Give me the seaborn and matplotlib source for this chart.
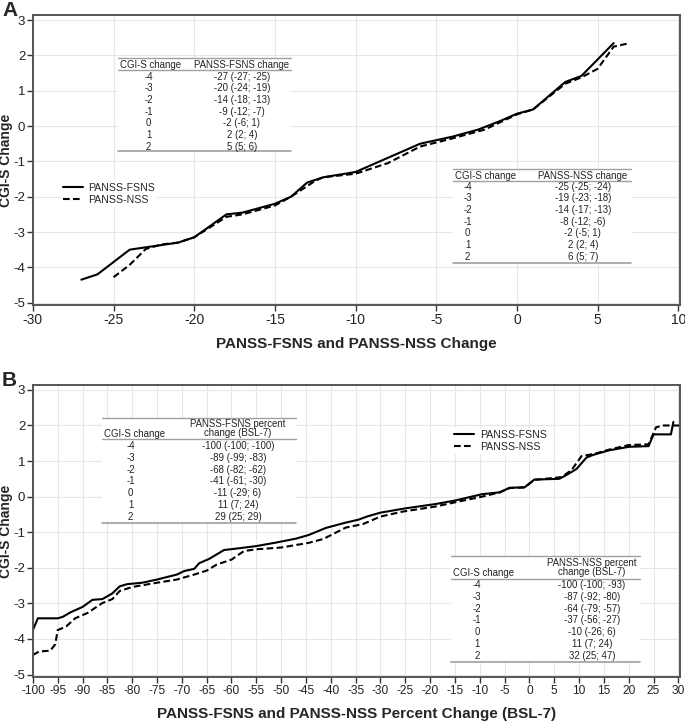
import seaborn as sns
import matplotlib.pyplot as plt
from matplotlib.patches import Rectangle
import numpy as np
import pandas as pd

# panel A: CGI-S change vs absolute PANSS change
a_fsns_x = [-27, -26, -24, -21, -20, -18, -17, -15, -14, -13, -12, -10, -8.5, -6, -4, -2.4, -1, 0, 1, 3, 4, 6]
a_fsns_y = [-4.35, -4.2, -3.5, -3.3, -3.15, -2.5, -2.45, -2.2, -2.0, -1.6, -1.45, -1.3, -1.0, -0.5, -0.3, -0.1, 0.15, 0.35, 0.47, 1.25, 1.42, 2.35]
a_nss_x = [-25, -24, -23, -22, -21, -20, -18, -17, -15, -14, -12.5, -12, -10, -8, -6, -4, -2, 0, 1, 3, 4, 5, 6, 7]
a_nss_y = [-4.28, -3.93, -3.48, -3.35, -3.3, -3.15, -2.57, -2.5, -2.25, -2.0, -1.55, -1.45, -1.35, -1.05, -0.58, -0.35, -0.1, 0.33, 0.47, 1.2, 1.38, 1.62, 2.25, 2.35]

# panel B: CGI-S change vs percent change
b_fsns_x = [-100, -99, -95, -94, -92.4, -90, -88, -86, -84, -82.5, -81, -78, -75, -71, -69.5, -67.5, -66.5,
            -64.5, -61.5, -59, -55, -51, -47, -44.5, -41, -37, -34.5, -32.5, -30, -25, -19, -15, -9.5, -6,
            -4, -1, 1, 6, 7.5, 9.5, 11.5, 13, 16, 20, 24, 25, 28.5, 29]
b_fsns_y = [-3.75, -3.42, -3.42, -3.38, -3.25, -3.1, -2.9, -2.88, -2.72, -2.52, -2.46, -2.42, -2.33, -2.19, -2.09,
            -2.03, -1.87, -1.75, -1.5, -1.46, -1.39, -1.29, -1.18, -1.08, -0.88, -0.73, -0.65, -0.55, -0.45,
            -0.33, -0.21, -0.11, 0.07, 0.12, 0.25, 0.26, 0.48, 0.5, 0.61, 0.78, 1.1, 1.18, 1.3, 1.4, 1.42,
            1.75, 1.75, 2.1]
b_nss_x = [-100, -98.7, -96.5, -95.5, -95, -93.3, -91.5, -89, -86, -84, -82.5, -80, -75, -71, -67.5, -65, -63,
           -60, -57.5, -55, -50, -44.5, -41.5, -37, -33.5, -30, -25.5, -19, -14, -9.5, -6, -4, -1, 1, 6.5,
           8.5, 10.5, 13, 16, 20, 24, 25.5, 27, 31]
b_nss_y = [-4.45, -4.35, -4.33, -4.15, -3.75, -3.65, -3.42, -3.27, -2.99, -2.88, -2.65, -2.54, -2.42, -2.33,
           -2.19, -2.08, -1.91, -1.77, -1.53, -1.48, -1.43, -1.3, -1.19, -0.87, -0.77, -0.56, -0.42, -0.28,
           -0.13, 0.0, 0.12, 0.24, 0.26, 0.47, 0.55, 0.75, 1.14, 1.2, 1.32, 1.45, 1.47, 1.95, 2.0, 2.0]

# summary tables
cgi_rows = ['-4', '-3', '-2', '-1', '0', '1', '2']
a_fsns_tab = ['-27 (-27; -25)', '-20 (-24; -19)', '-14 (-18; -13)', '-9 (-12; -7)', '-2 (-6; 1)', '2 (2; 4)', '5 (5; 6)']
a_nss_tab = ['-25 (-25; -24)', '-19 (-23; -18)', '-14 (-17; -13)', '-8 (-12; -6)', '-2 (-5; 1)', '2 (2; 4)', '6 (5; 7)']
b_fsns_tab = ['-100 (-100; -100)', '-89 (-99; -83)', '-68 (-82; -62)', '-41 (-61; -30)', '-11 (-29; 6)', '11 (7; 24)', '29 (25; 29)']
b_nss_tab = ['-100 (-100; -93)', '-87 (-92; -80)', '-64 (-79; -57)', '-37 (-56; -27)', '-10 (-26; 6)', '11 (7; 24)', '32 (25; 47)']

sns.set_style('whitegrid')
plt.rcParams['font.family'] = ['Liberation Sans Narrow', 'Liberation Sans', 'DejaVu Sans']
plt.rcParams['axes.unicode_minus'] = False

fig = plt.figure(figsize=(6.85, 7.23), dpi=100)
axA = fig.add_axes([0.048, 0.578, 0.9445, 0.401])
axB = fig.add_axes([0.048, 0.0636, 0.9445, 0.404])

DASH = (0, (3.2, 1.6))


def draw_curves(ax, fx, fy, nx, ny):
    sns.lineplot(x=fx, y=fy, ax=ax, color='black', lw=1.5, sort=False, estimator=None, label='PANSS-FSNS')
    sns.lineplot(x=nx, y=ny, ax=ax, color='black', lw=1.5, ls=DASH, sort=False, estimator=None, label='PANSS-NSS')


def style_axes(ax, xlim, xticks, xlabel, xsize):
    ax.set_xlim(*xlim)
    ax.set_ylim(-5.07, 3.14)
    ax.set_xticks(xticks)
    ax.set_yticks(range(-5, 4))
    ax.grid(True, color='#e6e6e6', lw=0.8)
    for s in ax.spines.values():
        s.set_color('#555555')
        s.set_linewidth(1.4)
    ax.tick_params(axis='both', direction='out', length=4, width=1, color='#333333',
                   labelcolor='#222222', bottom=True, left=True, pad=2)
    ax.tick_params(axis='y', labelsize=9.5, pad=1.5)
    ax.tick_params(axis='x', labelsize=xsize)
    ax.set_xlabel(xlabel, fontsize=11, fontweight='bold', labelpad=7)
    ax.set_ylabel('CGI-S Change', fontsize=10, fontweight='bold')
    ax.yaxis.set_label_coords(-0.031, 0.5)


def draw_table(ax, x0, x1, top, head_y, under, row0, c1x, c2x, head1, head2, vals, bottom, head2_y=None):
    ax.add_patch(Rectangle((x0, bottom), x1 - x0, top - bottom, transform=ax.transAxes,
                           facecolor='white', edgecolor='none', zorder=3))
    kw = dict(transform=ax.transAxes, fontsize=6.9, color='#222222', zorder=4, va='center')
    ax.plot([x0, x1], [top, top], transform=ax.transAxes, color='#a0a0a0', lw=1.0, zorder=4)
    ax.plot([x0, x1], [under, under], transform=ax.transAxes, color='#a0a0a0', lw=1.0, zorder=4)
    ax.plot([x0, x1], [bottom, bottom], transform=ax.transAxes, color='#a0a0a0', lw=1.2, zorder=4)
    ax.text(x0 + 0.003, head_y, head1, ha='left', **kw)
    if head2_y is None:
        ax.text(c2x, head_y, head2, ha='center', **kw)
    else:
        ax.text(c2x, head2_y[0], head2[0], ha='center', **kw)
        ax.text(c2x, head2_y[1], head2[1], ha='center', **kw)
    for i, (r, v) in enumerate(zip(cgi_rows, vals)):
        y = row0 - i * 0.0403
        ax.text(c1x, y, r, ha='center', **kw)
        ax.text(c2x, y, v, ha='center', **kw)


def white_legend(ax, anchor):
    leg = ax.legend(loc='center left', bbox_to_anchor=anchor, frameon=True, fontsize=7.6,
                    handlelength=1.9, handletextpad=0.5, labelspacing=0.2, borderpad=0.2)
    leg.get_frame().set_facecolor('white')
    leg.get_frame().set_edgecolor('none')
    leg.get_frame().set_alpha(1)


# ---- panel A
draw_curves(axA, a_fsns_x, a_fsns_y, a_nss_x, a_nss_y)
style_axes(axA, (-30, 10.1), range(-30, 11, 5), 'PANSS-FSNS and PANSS-NSS Change', 10)
draw_table(axA, 0.131, 0.399, 0.852, 0.829, 0.811, 0.788, 0.179, 0.323,
           'CGI-S change', 'PANSS-FSNS change', a_fsns_tab, 0.531)
draw_table(axA, 0.649, 0.924, 0.468, 0.445, 0.428, 0.409, 0.672, 0.850,
           'CGI-S change', 'PANSS-NSS change', a_nss_tab, 0.146)
white_legend(axA, (0.035, 0.383))

# ---- panel B
draw_curves(axB, b_fsns_x, b_fsns_y, b_nss_x, b_nss_y)
style_axes(axB, (-100, 30.3), range(-100, 31, 5), 'PANSS-FSNS and PANSS-NSS Percent Change (BSL-7)', 8.6)
draw_table(axB, 0.107, 0.406, 0.888, 0.832, 0.814, 0.791, 0.151, 0.317,
           'CGI-S change', ['PANSS-FSNS percent', 'change (BSL-7)'], b_fsns_tab, 0.526,
           head2_y=(0.866, 0.834))
draw_table(axB, 0.646, 0.938, 0.413, 0.355, 0.335, 0.315, 0.687, 0.864,
           'CGI-S change', ['PANSS-NSS percent', 'change (BSL-7)'], b_nss_tab, 0.052,
           head2_y=(0.391, 0.358))
white_legend(axB, (0.64, 0.808))

fig.text(0.003, 0.999, 'A', fontsize=15, fontweight='bold', ha='left', va='top')
fig.text(0.003, 0.487, 'B', fontsize=15, fontweight='bold', ha='left', va='top')

fig.savefig('out.png', dpi=100)
